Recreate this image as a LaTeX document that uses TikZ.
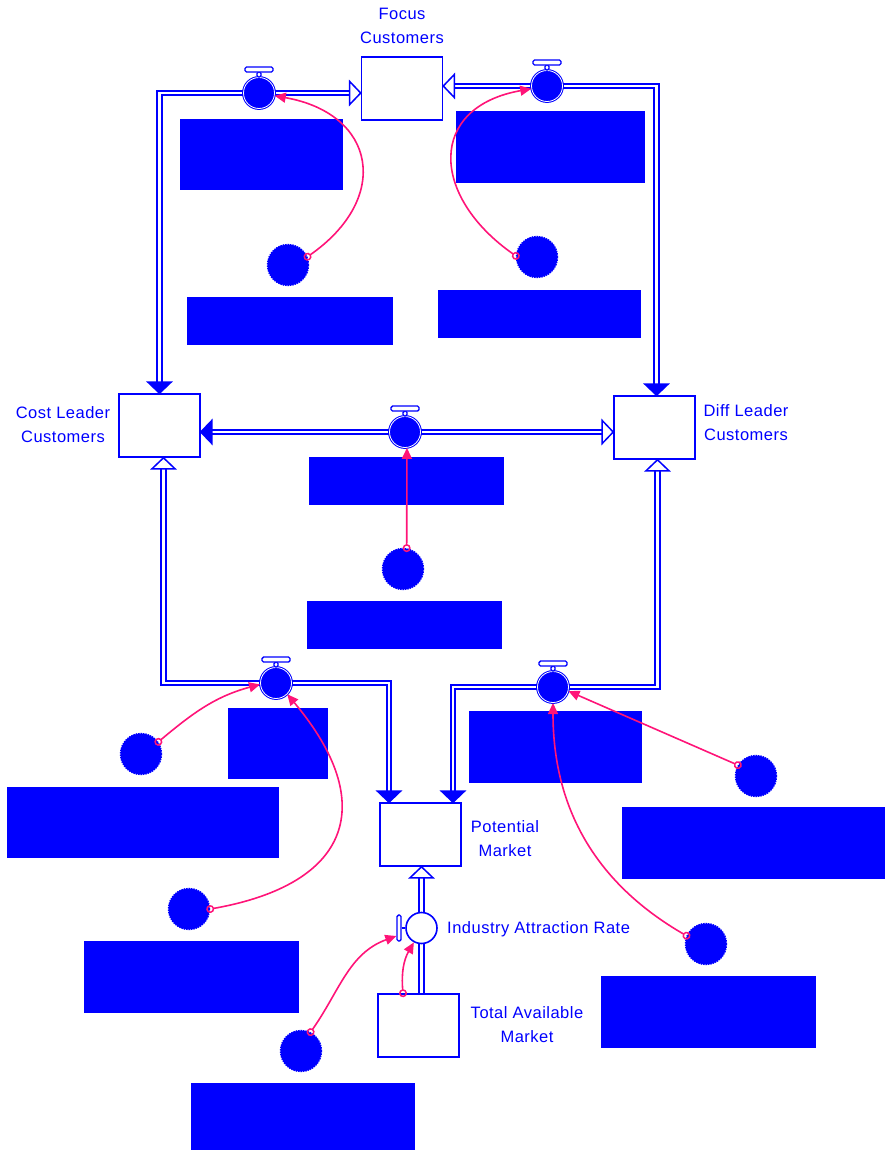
\documentclass[tikz,border=0pt]{standalone}
\usepackage{fontspec}
\setmainfont{Liberation Sans}[LetterSpace=3]
\usetikzlibrary{arrows.meta}
\definecolor{sdblue}{RGB}{0,0,255}
\definecolor{sdpink}{RGB}{255,20,120}
\newcommand\valvehandle[1]{%
  \draw[handle] ([xshift=-2pt]#1.north) rectangle ([xshift=2pt,yshift=5pt]#1.north);
  \draw[handle] ([xshift=-14pt,yshift=5pt]#1.north) rectangle ([xshift=14pt,yshift=10pt]#1.north);}
\newcommand\flowhead[3]{%
  \draw[draw=sdblue, line width=1.5pt, line join=miter, fill=#1, shift={(#2)}, rotate=#3]
    (0,0) -- (-11,11.5) -- (-11,-11.5) -- cycle;}
\begin{document}
\begin{tikzpicture}[x=1pt,y=1pt,
  stock/.style={draw=sdblue, line width=1.6pt, fill=white, minimum width=81pt, minimum height=63pt, inner sep=0pt},
  valve/.style={circle, draw=sdblue, fill=sdblue, line width=1pt, double=white, double distance=0.8pt, minimum size=31pt, inner sep=0pt},
  conv/.style={circle, fill=sdblue, draw=sdblue, line width=1.4pt, densely dotted, minimum size=41pt, inner sep=0pt},
  hidden/.style={fill=sdblue, draw=none, inner sep=0pt, anchor=north west},
  lbl/.style={text=sdblue, font=\fontsize{16.5}{24}\selectfont, align=center, inner sep=0pt},
  pipe/.style={draw=sdblue, line width=1.8pt, double=white, double distance=2.8pt},
  link/.style={draw=sdpink, line width=1.6pt, shorten <=-4pt,
    {Circle[open,length=8pt,width=8pt,line width=1.5pt]}-{Triangle[length=11pt,width=10pt]}},
  handle/.style={draw=sdblue, fill=white, line width=1.4pt, rounded corners=1.5pt},
]
\useasboundingbox (0,0) rectangle (885,-1151);

% stocks
\node[stock] (focus) at (402,-88.5) {};
\node[stock] (cl) at (159.5,-425.5) {};
\node[stock] (dl) at (654.5,-427.5) {};
\node[stock] (pm) at (420.5,-834.5) {};
\node[stock] (tam) at (418.5,-1025.5) {};

% valve positions
\coordinate (v1p) at (259,-93);
\coordinate (v2p) at (547,-86);
\coordinate (v3p) at (405,-432);
\coordinate (v4p) at (276,-683);
\coordinate (v5p) at (553,-687);
\coordinate (indp) at (421.5,-928);

% pipes
\draw[pipe, shorten <=10pt, shorten >=10pt] (cl.north) |- (focus.west |- v1p);
\draw[pipe, shorten <=10pt, shorten >=10pt] ([xshift=2pt]dl.north) |- (focus.east |- v2p);
\draw[pipe, shorten <=10pt, shorten >=10pt] (cl.east |- v3p) -- (dl.west |- v3p);
\draw[pipe, shorten <=10pt, shorten >=10pt] ([xshift=4pt]cl.south) |- (v4p) -| ([xshift=-31.5pt]pm.north);
\draw[pipe, shorten <=10pt, shorten >=10pt] ([xshift=3pt]dl.south) |- (v5p) -| ([xshift=32.5pt]pm.north);
\draw[pipe, shorten >=10pt] (tam.north -| indp) -- (pm.south -| indp);

% flow arrowheads
\flowhead{sdblue}{cl.north}{-90}
\flowhead{white}{focus.west |- v1p}{0}
\flowhead{sdblue}{[xshift=2pt]dl.north}{-90}
\flowhead{white}{focus.east |- v2p}{180}
\flowhead{sdblue}{cl.east |- v3p}{180}
\flowhead{white}{dl.west |- v3p}{0}
\flowhead{white}{[xshift=4pt]cl.south}{90}
\flowhead{sdblue}{[xshift=-31.5pt]pm.north}{-90}
\flowhead{white}{[xshift=3pt]dl.south}{90}
\flowhead{sdblue}{[xshift=32.5pt]pm.north}{-90}
\flowhead{white}{pm.south -| indp}{90}

% valves
\node[valve] (v1) at (v1p) {};
\node[valve] (v2) at (v2p) {};
\node[valve] (v3) at (v3p) {};
\node[valve] (v4) at (v4p) {};
\node[valve] (v5) at (v5p) {};
\valvehandle{v1}
\valvehandle{v2}
\valvehandle{v3}
\valvehandle{v4}
\valvehandle{v5}
\node[circle, draw=sdblue, fill=white, line width=1.6pt, minimum size=31pt, inner sep=0pt] (ind) at (indp) {};
\node[handle, minimum width=4pt, minimum height=26pt, inner sep=0pt] (indh) at (399,-928) {};
\draw[handle] (indh.east) -- (ind.west);

% hidden label boxes
\node[hidden, minimum width=163pt, minimum height=71pt] (r1) at (180,-119) {};
\node[hidden, minimum width=189pt, minimum height=72pt] (r2) at (456,-111) {};
\node[hidden, minimum width=206pt, minimum height=48pt] (r3) at (187,-297) {};
\node[hidden, minimum width=203pt, minimum height=48pt] (r4) at (438,-290) {};
\node[hidden, minimum width=195pt, minimum height=48pt] (r5) at (309,-457) {};
\node[hidden, minimum width=195pt, minimum height=48pt] (r6) at (307,-601) {};
\node[hidden, minimum width=100pt, minimum height=71pt] (r7) at (228,-708) {};
\node[hidden, minimum width=173pt, minimum height=72pt] (r8) at (469,-711) {};
\node[hidden, minimum width=272pt, minimum height=71pt] (r9) at (7,-787) {};
\node[hidden, minimum width=263pt, minimum height=72pt] (r10) at (622,-807) {};
\node[hidden, minimum width=215pt, minimum height=72pt] (r11) at (84,-941) {};
\node[hidden, minimum width=215pt, minimum height=72pt] (r12) at (601,-976) {};
\node[hidden, minimum width=224pt, minimum height=67pt] (r13) at (191,-1083) {};

% converters
\node[conv] (c1) at (288,-265) {};
\node[conv] (c2) at (537,-257) {};
\node[conv] (c3) at (403,-569) {};
\node[conv] (c4) at (141,-754) {};
\node[conv] (c5) at (756,-776) {};
\node[conv] (c6) at (189,-909) {};
\node[conv] (c7) at (706,-944) {};
\node[conv] (c8) at (301,-1051) {};

% labels
\node[lbl] (tfocus) at (402,-26) {Focus\\Customers};
\node[lbl] (tcl) at (63,-425) {Cost Leader\\Customers};
\node[lbl] (tdl) at (746,-423) {Diff Leader\\Customers};
\node[lbl] (tpm) at (505,-839) {Potential\\Market};
\node[lbl, anchor=west] (tind) at (447,-929) {Industry Attraction Rate};
\node[lbl] (ttam) at (527,-1025) {Total Available\\Market};

% connectors
\draw[link] (c1.23) to[out=35,in=-10,looseness=1.6] (v1.-10);
\draw[link] (c2.177) to[out=145,in=190,looseness=1.6] (v2.190);
\draw[link] (c3.80) -- (v3.-83);
\draw[link] (c4.35) to[out=40,in=195] (v4.185);
\draw[link] (c6.0) to[out=10,in=-50,looseness=1.6] (v4.-45);
\draw[link] (c5.149) -- (v5.-15);
\draw[link] (c7.157) to[out=150,in=-90] (v5.-90);
\draw[link] (c8.63) to[out=55,in=200] ([yshift=-8pt]indh.west);
\draw[link] ([xshift=-15.5pt]tam.north) to[out=95,in=240] (ind.242);
\end{tikzpicture}
\end{document}
